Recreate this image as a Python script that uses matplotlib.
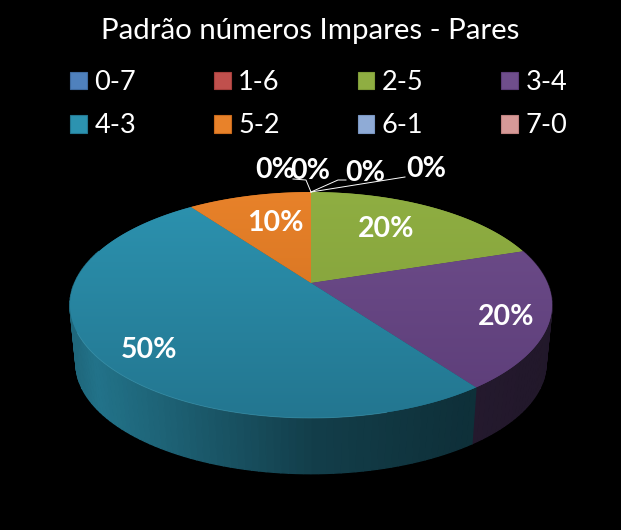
import numpy as np
import matplotlib
matplotlib.use("Agg")
from matplotlib import pyplot as plt
from matplotlib.colors import LinearSegmentedColormap
from matplotlib.patches import Patch

titulo = "Padrão números Impares - Pares"
categorias = ["0-7", "1-6", "2-5", "3-4", "4-3", "5-2", "6-1", "7-0"]
valores = [0, 0, 20, 20, 50, 10, 0, 0]
rotulos = [f"{v}%" for v in valores]

# cor de cima e cor de baixo de cada fatia
cor_alto = ["#4f81bd", "#c0504d", "#8fae42", "#6f4e8c", "#2c93b0", "#e8822a", "#8fabd6", "#d79a98"]
cor_baixo = ["#3f6ba0", "#a53f3c", "#7f9c38", "#5c3d78", "#237690", "#c96a1c", "#7a96c2", "#bf8280"]
# posicao dos rotulos, em pixels
pos_rotulos = [(365, 173), (426, 169), (386, 229), (506, 317), (149, 350), (275, 223), (275, 170), (310, 171)]

W, H = 621, 530
plt.rcParams['font.family'] = ['Lato', 'DejaVu Sans']

fig = plt.figure(figsize=(W/100, H/100), dpi=100, facecolor='black')
ax = fig.add_axes([0, 0, 1, 1])
ax.set_xlim(0, W)
ax.set_ylim(H, 0)
ax.axis('off')

## Perspective
K = 0.195  # inclinacao

def Projete(ang, cx=311, cy=283, rx=236.4, ry=108.7):
    # ang : angulo em radianos a partir do alto, sentido horario
    u, v = np.sin(ang), np.cos(ang)
    w = 1 + K*v
    return cx + rx*u/w, cy - ry*v/w

def Claro(cor, f):
    return np.array(matplotlib.colors.to_rgb(cor))*f

lim = np.cumsum([0] + valores)/sum(valores)*2*np.pi

## Lateral
ft = [0, 0.05, 0.3, 0.5, 0.8, 1]
fs = [0.70, 0.78, 0.58, 0.42, 0.33, 0.30]
for i in range(len(valores)):
    if valores[i] == 0:
        continue
    angs = np.arange(lim[i], lim[i+1]+1e-9, np.radians(1.5))
    angs = np.append(angs, lim[i+1])
    for a, b in zip(angs[:-1], angs[1:]):
        if np.cos(a) > 0.3 and np.cos(b) > 0.3:
            continue
        xa, ya = Projete(np.array([a, b]))
        xb, yb = Projete(np.array([a, b]), cy=342, rx=230.5, ry=106)
        t = (xa.mean()-70)/482
        c = Claro(cor_alto[i], np.interp(t, ft, fs))
        ax.fill([xa[0], xa[1], xb[1], xb[0]], [ya[0], ya[1], yb[1], yb[0]],
                facecolor=c, edgecolor=c, lw=1.0, zorder=1)

## Fatias de cima
for i in range(len(valores)):
    if valores[i] == 0:
        continue
    angs = np.linspace(lim[i], lim[i+1], 200)
    x, y = Projete(angs)
    x = np.append(x, 311)
    y = np.append(y, 283)
    p = ax.fill(x, y, color=cor_baixo[i], lw=0, zorder=2)[0]
    cm = LinearSegmentedColormap.from_list("c", [cor_alto[i], cor_baixo[i]])
    im = ax.imshow(np.linspace(0, 1, 128).reshape(-1, 1), cmap=cm, aspect='auto',
                   extent=(60, 560, 420, 190), zorder=3)
    im.set_clip_path(p)
ax.set_xlim(0, W)
ax.set_ylim(H, 0)

# filete claro na frente
angs = np.radians(np.linspace(165, 245, 120))
xf, yf = Projete(angs)
ax.plot(xf, yf, color="#4fa6bd", lw=0.6, alpha=0.45, zorder=4)

## Linhas de chamada
ax.plot([311, 306, 293], [192, 180, 179], color='white', lw=0.7, zorder=5)
ax.plot([311, 338, 346], [192, 180, 180], color='white', lw=0.7, zorder=5)
ax.plot([311, 405], [192, 177], color='white', lw=0.7, zorder=5)

## Rotulos
for r, (px, py) in zip(rotulos, pos_rotulos):
    ax.text(px, py, r, color='white', fontsize=20.5, fontweight='bold',
            ha='center', va='center', zorder=6)

ax.text(310, 31, titulo, color='white', fontsize=21.2, ha='center', va='center')

## Legenda
handles = [Patch(facecolor=c, edgecolor=d, lw=0.8) for c, d in zip(cor_alto, cor_baixo)]
# preenchimento por colunas : reordena para ter 4 colunas em 2 linhas
ordem = [0, 4, 1, 5, 2, 6, 3, 7]
leg = ax.legend([handles[i] for i in ordem], [categorias[i] for i in ordem], ncol=4,
                loc='upper left', bbox_to_anchor=(70/W, 1-70/H), frameon=False,
                fontsize=19.5, labelcolor='white', handlelength=0.62, handleheight=0.62,
                handletextpad=0.28, columnspacing=2.87, labelspacing=0.68,
                borderaxespad=0, borderpad=0)

fig.savefig("out.png", dpi=100, facecolor='black')
